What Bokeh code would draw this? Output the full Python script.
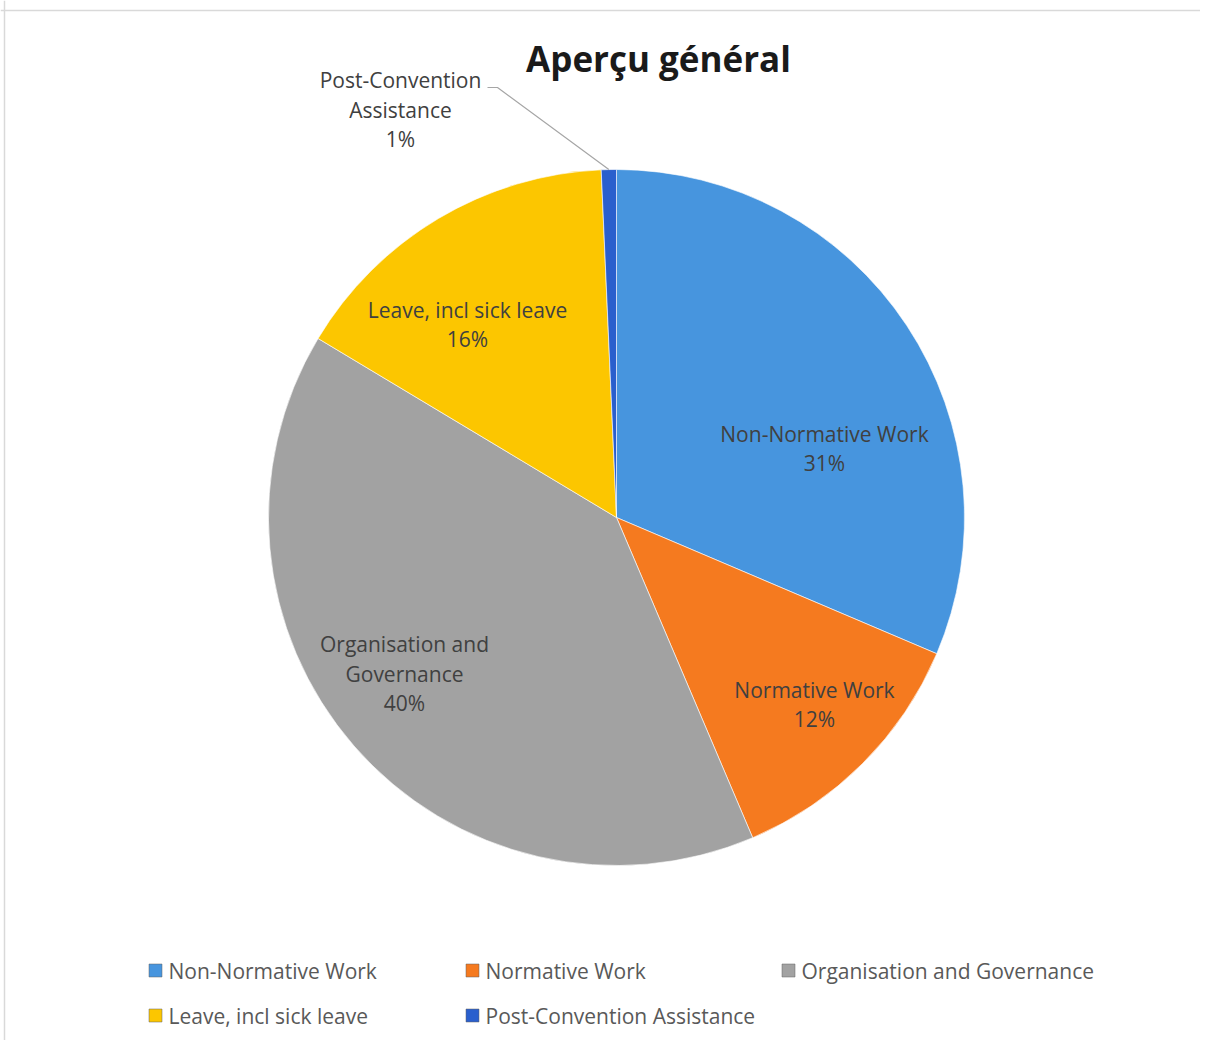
import math
from bokeh.plotting import figure
from bokeh.models import Range1d, ColumnDataSource, Span
from bokeh.core.properties import value
from bokeh.embed import file_html
from bokeh.resources import INLINE

# ---------------- data ----------------
chart_title = "Aperçu général"
categories = ["Non-Normative Work", "Normative Work", "Organisation and Governance",
              "Leave, incl sick leave", "Post-Convention Assistance"]
shares = [31.4, 12.2, 40.0, 15.7, 0.7]
label_lines = [["Non-Normative Work"], ["Normative Work"], ["Organisation and", "Governance"],
               ["Leave, incl sick leave"], ["Post-Convention", "Assistance"]]

# ---------------- styles / layout ----------------
colors = ["#4795de", "#f57a1f", "#a2a2a2", "#fcc600", "#2a5fcd"]
W, H = 1200, 1040
FONT = "Open Sans"
cx, cy, R = 616, 517, 348
# label block centres (x, y in page px from top)
label_pos = [(824, 448), (814, 704), (404, 673), (467, 324), (400, 109)]
line_gap = 29.7
legend_cols = [155, 472, 788]
legend_rows = [970, 1015]


def Y(sy):
    return H - sy


p = figure(width=W, height=H, output_backend="svg", toolbar_location=None,
           x_range=Range1d(0, W), y_range=Range1d(0, H), min_border=0)
p.axis.visible = False
p.grid.visible = False
p.outline_line_color = None
p.background_fill_color = "white"

p.add_layout(Span(location=Y(10), dimension="width", line_color="#d9d9d9", line_width=1.5))
p.add_layout(Span(location=4, dimension="height", line_color="#d9d9d9", line_width=1.5))

total = sum(shares)
starts, ends, mids = [], [], []
cum = 0.0
for s in shares:
    a0 = math.pi / 2 - 2 * math.pi * cum / total
    cum += s
    a1 = math.pi / 2 - 2 * math.pi * cum / total
    starts.append(a0)
    ends.append(a1)
    mids.append((a0 + a1) / 2)

src = ColumnDataSource(dict(x=[cx] * len(shares), y=[Y(cy)] * len(shares),
                            start=starts, end=ends, color=colors, cat=categories))
p.wedge(x="x", y="y", radius=R, start_angle="start", end_angle="end", direction="clock",
        fill_color="color", line_color="white", line_alpha=0.6, line_width=1, source=src)

# data labels
tx, ty, tt = [], [], []
for lines, share, (lx, ly) in zip(label_lines, shares, label_pos):
    allines = lines + [f"{round(share)}%"]
    n = len(allines)
    for i, t in enumerate(allines):
        tx.append(lx)
        ty.append(Y(ly + (i - (n - 1) / 2) * line_gap))
        tt.append(t)
p.text(x=tx, y=ty, text=tt, text_align="center", text_baseline="middle",
       text_font=value(FONT), text_font_size="21px", text_color="#404040")

# leader line for the small slice
m = mids[-1]
ex, ey = cx + R * math.cos(m), Y(cy) + R * math.sin(m)
p.line(x=[487, 497, ex], y=[Y(87), Y(87), ey], line_color="#a6a6a6", line_width=1.2)

# title
p.text(x=[658], y=[Y(58)], text=[chart_title], text_align="center", text_baseline="middle",
       text_font=value(FONT), text_font_size="35px", text_font_style="bold", text_color="#1a1a1a")

# legend
lx, ly, lc, lt = [], [], [], []
for i, (c, col) in enumerate(zip(categories, colors)):
    r, k = divmod(i, 3)
    lx.append(legend_cols[k])
    ly.append(Y(legend_rows[r]))
    lc.append(col)
    lt.append(c)
p.scatter(x=lx, y=ly, marker="square", size=13, fill_color=lc, line_color="#606060",
          line_width=0.5)
p.text(x=[v + 13 for v in lx], y=ly, text=lt, text_align="left", text_baseline="middle",
       text_font=value(FONT), text_font_size="21px", text_color="#595959")

open("out.html", "w").write(file_html(p, INLINE))
